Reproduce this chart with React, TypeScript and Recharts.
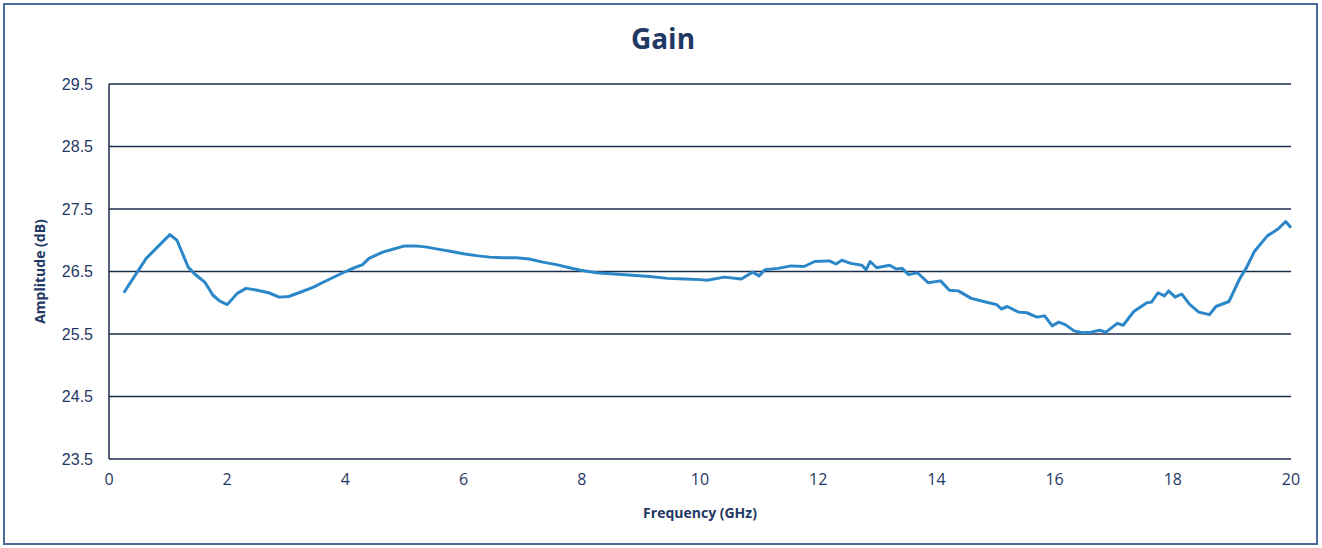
import React from 'react';
import {
  LineChart, Line, XAxis, YAxis, CartesianGrid
} from 'recharts';

// frequency points (GHz)
const FREQ_GHZ = [
  0.25, 0.63, 1.03, 1.15, 1.34, 1.45, 1.62, 1.76, 1.87, 2.0,
  2.17, 2.32, 2.51, 2.7, 2.88, 3.04, 3.27, 3.46, 3.65, 3.87,
  4.1, 4.29, 4.4, 4.63, 4.82, 5.0, 5.19, 5.38, 5.61, 5.8,
  6.02, 6.25, 6.44, 6.66, 6.89, 7.11, 7.34, 7.57, 7.79, 7.98,
  8.25, 8.55, 8.85, 9.15, 9.45, 9.75, 10.0, 10.12, 10.41, 10.7,
  10.89, 11.0, 11.1, 11.32, 11.54, 11.76, 11.94, 12.19, 12.3, 12.4,
  12.55, 12.74, 12.81, 12.88, 12.99, 13.21, 13.32, 13.42, 13.53, 13.68,
  13.86, 14.07, 14.22, 14.37, 14.59, 14.8, 15.02, 15.1, 15.2, 15.39,
  15.53, 15.7, 15.83, 15.96, 16.07, 16.18, 16.33, 16.47, 16.62, 16.76,
  16.87, 17.06, 17.16, 17.34, 17.56, 17.64, 17.75, 17.86, 17.93, 18.04,
  18.15, 18.29, 18.44, 18.62, 18.73, 18.95, 19.13, 19.24, 19.38, 19.6,
  19.78, 19.91, 20.0,
];

// gain (dB) at each frequency above
const GAIN_DB = [
  26.16, 26.71, 27.09, 27.0, 26.57, 26.46, 26.33, 26.12, 26.03, 25.97,
  26.15, 26.23, 26.2, 26.16, 26.09, 26.1, 26.18, 26.25, 26.34, 26.44,
  26.54, 26.61, 26.71, 26.81, 26.86, 26.91, 26.91, 26.89, 26.85, 26.82,
  26.78, 26.75, 26.73, 26.72, 26.72, 26.7, 26.65, 26.61, 26.56, 26.52,
  26.48, 26.46, 26.44, 26.42, 26.39, 26.38, 26.37, 26.36, 26.41, 26.38,
  26.49, 26.43, 26.53, 26.55, 26.59, 26.58, 26.66, 26.67, 26.62, 26.68,
  26.63, 26.6, 26.53, 26.66, 26.56, 26.6, 26.54, 26.55, 26.45, 26.48,
  26.32, 26.35, 26.2, 26.19, 26.07, 26.02, 25.97, 25.9, 25.94, 25.85,
  25.84, 25.77, 25.79, 25.63, 25.69, 25.65, 25.55, 25.52, 25.53, 25.56,
  25.53, 25.67, 25.64, 25.86, 26.0, 26.01, 26.16, 26.11, 26.19, 26.09,
  26.14, 25.97, 25.85, 25.81, 25.94, 26.02, 26.38, 26.55, 26.82, 27.07,
  27.18, 27.3, 27.2,
];

const Y_TICKS = [23.5, 24.5, 25.5, 26.5, 27.5, 28.5, 29.5];
const X_TICKS = [0, 2, 4, 6, 8, 10, 12, 14, 16, 18, 20];

const NAVY = '#1f3864';
const GRID = '#1c2c4c';
const LINE = '#2b87c8';

const data = FREQ_GHZ.map((f, i) => ({ freq: f, gain: GAIN_DB[i] }));

export default function App() {
  return (
    <div style={{ position: 'absolute', left: 0, top: 0, width: 1322, height: 548, background: '#fff' }}>
      {/* outer chart frame */}
      <div
        style={{
          position: 'absolute', left: 3, top: 3, width: 1315, height: 542,
          border: '2px solid #4a6a9c', boxSizing: 'border-box',
        }}
      />
      <div
        style={{
          position: 'absolute', left: 0, top: 19, width: 1326, textAlign: 'center',
          fontFamily: '"Open Sans", sans-serif', fontWeight: 700, fontSize: 28, color: NAVY,
        }}
      >
        Gain
      </div>
      <LineChart
        width={1322}
        height={548}
        data={data}
        margin={{ top: 84, right: 31, bottom: 0, left: 0 }}
        style={{ position: 'absolute', left: 0, top: 0 }}
      >
        <CartesianGrid vertical={false} stroke={GRID} strokeWidth={1.5} />
        <XAxis
          dataKey="freq"
          type="number"
          domain={[0, 20]}
          ticks={X_TICKS}
          height={89}
          axisLine={false}
          tickLine={false}
          tickSize={0}
          tickMargin={15}
          tick={{ fill: NAVY, fontSize: 16, fontFamily: '"Open Sans", sans-serif' }}
          label={{
            value: 'Frequency (GHz)', position: 'insideBottom', offset: 30,
            fill: NAVY, fontSize: 14, fontWeight: 700, fontFamily: '"Open Sans", sans-serif',
          }}
        />
        <YAxis
          type="number"
          domain={[23.5, 29.5]}
          ticks={Y_TICKS}
          width={109}
          axisLine={{ stroke: GRID, strokeWidth: 1.5 }}
          tickLine={false}
          tickSize={0}
          tickMargin={16}
          tickFormatter={(v: number) => v.toFixed(1)}
          tick={{ fill: NAVY, fontSize: 16, fontFamily: '"Liberation Sans", Arial, sans-serif' }}
          label={{
            value: 'Amplitude (dB)', angle: -90, position: 'insideLeft', offset: 40,
            style: { textAnchor: 'middle' },
            fill: NAVY, fontSize: 14, fontWeight: 700, fontFamily: '"Open Sans", sans-serif',
          }}
        />
        <Line
          type="linear"
          dataKey="gain"
          stroke={LINE}
          strokeWidth={3}
          strokeLinejoin="round"
          dot={false}
          isAnimationActive={false}
        />
      </LineChart>
    </div>
  );
}
